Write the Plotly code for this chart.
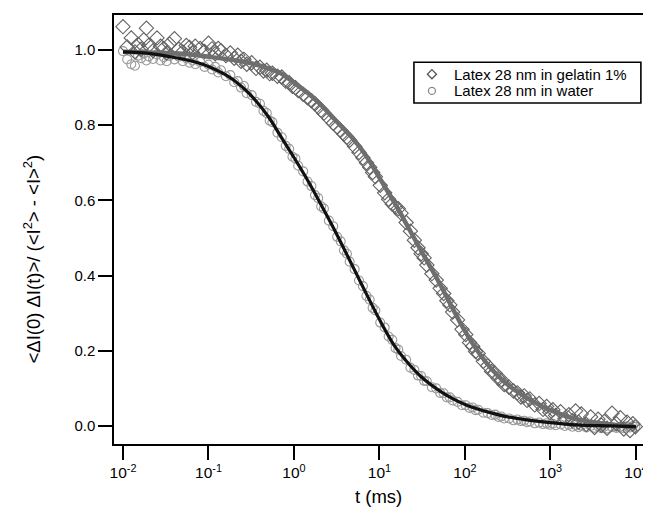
import plotly.graph_objects as go

# Lag times (ms), shared by both measurements
lag_ms = [0.0100, 0.0112, 0.0125, 0.0138, 0.0150, 0.0163, 0.0175, 0.0188, 0.0200, 0.0225,
          0.0250, 0.0275, 0.0300, 0.0325, 0.0350, 0.0400, 0.0450, 0.0500, 0.0550, 0.0600,
          0.0650, 0.0700, 0.0800, 0.0900, 0.100, 0.110, 0.120, 0.130, 0.140, 0.160,
          0.180, 0.200, 0.220, 0.240, 0.260, 0.280, 0.320, 0.360, 0.400, 0.440,
          0.480, 0.520, 0.560, 0.640, 0.720, 0.800, 0.880, 0.960, 1.04, 1.12,
          1.28, 1.44, 1.60, 1.76, 1.92, 2.08, 2.24, 2.56, 2.88, 3.20,
          3.52, 3.84, 4.16, 4.48, 5.12, 5.76, 6.40, 7.04, 7.68, 8.32,
          8.96, 10.2, 11.5, 12.8, 14.1, 15.4, 16.6, 17.9, 20.5, 23.0,
          25.6, 28.2, 30.7, 33.3, 35.8, 41.0, 46.1, 51.2, 56.3, 61.4,
          66.6, 71.7, 81.9, 92.2, 102, 113, 123, 133, 143, 164,
          184, 205, 225, 246, 266, 287, 328, 369, 410, 451,
          492, 532, 573, 655, 737, 819, 901, 983, 1065, 1147,
          1311, 1475, 1638, 1802, 1966, 2130, 2294, 2621, 2949, 3277,
          3604, 3932, 4260, 4588, 5243, 5898, 6554, 7209, 7864, 8520,
          9175, 9830]

gelatin_g = [1.062, 1.008, 1.032, 0.995, 1.015, 1.002, 1.027, 1.058, 1.012, 0.998,
             1.032, 1.010, 1.004, 0.992, 1.016, 1.030, 1.002, 0.995, 1.012, 1.007,
             0.993, 1.010, 1.004, 0.996, 1.018, 1.003, 0.990, 1.004, 0.998, 0.985,
             0.992, 0.978, 0.986, 0.970, 0.975, 0.962, 0.966, 0.951, 0.954, 0.944,
             0.946, 0.937, 0.938, 0.930, 0.928, 0.917, 0.913, 0.903, 0.900, 0.892,
             0.882, 0.873, 0.865, 0.857, 0.848, 0.840, 0.832, 0.818, 0.805, 0.795,
             0.786, 0.776, 0.768, 0.760, 0.743, 0.727, 0.713, 0.700, 0.688, 0.674,
             0.663, 0.640, 0.620, 0.603, 0.590, 0.582, 0.578, 0.566, 0.541, 0.518,
             0.494, 0.474, 0.458, 0.447, 0.428, 0.405, 0.388, 0.366, 0.352, 0.333,
             0.322, 0.303, 0.282, 0.257, 0.243, 0.222, 0.212, 0.198, 0.193, 0.172,
             0.160, 0.145, 0.140, 0.126, 0.123, 0.110, 0.103, 0.093, 0.088, 0.077,
             0.080, 0.068, 0.072, 0.056, 0.060, 0.044, 0.052, 0.036, 0.043, 0.028,
             0.038, 0.020, 0.030, 0.014, 0.040, 0.010, 0.032, 0.004, 0.024, -0.004,
             0.018, 0.002, 0.012, -0.006, 0.034, 0.006, 0.022, -0.008, 0.010, -0.012,
             0.006, -0.002]

water_g = [0.997, 0.975, 0.962, 0.958, 0.985, 0.978, 0.990, 0.972, 0.983, 0.976,
           0.988, 0.972, 0.981, 0.970, 0.984, 0.975, 0.982, 0.970, 0.978, 0.966,
           0.972, 0.962, 0.968, 0.955, 0.961, 0.948, 0.955, 0.940, 0.946, 0.930,
           0.933, 0.914, 0.917, 0.900, 0.904, 0.885, 0.880, 0.862, 0.857, 0.838,
           0.832, 0.812, 0.808, 0.780, 0.768, 0.745, 0.737, 0.716, 0.711, 0.692,
           0.677, 0.650, 0.638, 0.614, 0.606, 0.584, 0.578, 0.546, 0.531, 0.503,
           0.491, 0.467, 0.458, 0.437, 0.417, 0.387, 0.372, 0.346, 0.336, 0.314,
           0.307, 0.275, 0.262, 0.238, 0.229, 0.207, 0.203, 0.186, 0.176, 0.155,
           0.149, 0.134, 0.133, 0.120, 0.119, 0.103, 0.100, 0.088, 0.087, 0.076,
           0.076, 0.068, 0.064, 0.055, 0.055, 0.048, 0.049, 0.042, 0.043, 0.035,
           0.034, 0.029, 0.030, 0.024, 0.025, 0.020, 0.020, 0.015, 0.017, 0.013,
           0.014, 0.010, 0.012, 0.007, 0.009, 0.005, 0.007, 0.003, 0.006, 0.002,
           0.004, 0.000, 0.003, -0.002, 0.002, -0.003, 0.001, -0.004, 0.000, -0.005,
           -0.001, -0.006, -0.002, -0.007, -0.003, -0.005, -0.002, -0.006, -0.001, -0.004,
           0.000, -0.002]

# Fit curves
fit_gel_t = [0.01, 0.02, 0.05, 0.1, 0.2, 0.3, 0.5, 0.7, 1, 1.5, 2, 3, 5, 7, 10, 15, 20, 30,
             50, 70, 100, 150, 200, 300, 500, 700, 1000, 2000, 5000, 10000]
fit_gel_y = [0.995, 0.993, 0.990, 0.982, 0.973, 0.966, 0.951, 0.938, 0.913, 0.883, 0.857,
             0.815, 0.762, 0.718, 0.660, 0.593, 0.543, 0.470, 0.381, 0.317, 0.252, 0.190,
             0.154, 0.114, 0.078, 0.059, 0.042, 0.018, 0.004, -0.003]

fit_wat_t = [0.01, 0.02, 0.04, 0.07, 0.1, 0.15, 0.2, 0.3, 0.5, 0.7, 1, 1.5, 2, 3, 5, 7, 10,
             15, 20, 30, 50, 70, 100, 150, 200, 300, 500, 1000, 2000, 5000, 10000]
fit_wat_y = [0.995, 0.991, 0.980, 0.968, 0.956, 0.937, 0.919, 0.884, 0.823, 0.770, 0.714,
             0.647, 0.595, 0.520, 0.419, 0.352, 0.283, 0.213, 0.176, 0.133, 0.094, 0.074,
             0.057, 0.043, 0.035, 0.025, 0.017, 0.009, 0.003, 0.000, -0.002]

x_tickvals = [0.01, 0.1, 1, 10, 100, 1000, 10000]
x_ticktext = ["10<sup>-2</sup>", "10<sup>-1</sup>", "10<sup>0</sup>", "10<sup>1</sup>",
              "10<sup>2</sup>", "10<sup>3</sup>", "10<sup>4</sup>"]
y_tickvals = [0.0, 0.2, 0.4, 0.6, 0.8, 1.0]
y_ticktext = ["0.0", "0.2", "0.4", "0.6", "0.8", "1.0"]

names = ["Latex 28 nm in gelatin 1%", "Latex 28 nm in water"]
x_title = "t (ms)"
y_title = "&lt;ΔI(0) ΔI(t)&gt;/ (&lt;I<sup>2</sup>&gt; - &lt;I&gt;<sup>2</sup>)"

FONT = "Liberation Sans, Arial, Helvetica, sans-serif"
GEL_COL = "#626262"
WAT_COL = "#9a9a9a"

# legend layout (paper coordinates)
LEG_X0, LEG_X1, LEG_Y0, LEG_Y1 = 0.567, 0.996, 0.795, 0.890
LEG_ROWS = [0.862, 0.823]
LEG_MARK_X, LEG_TEXT_X = 0.601, 0.639

fig = go.Figure()

fig.add_trace(go.Scatter(x=lag_ms, y=water_g, mode="markers", showlegend=False,
                         marker=dict(symbol="circle-open", size=9, color=WAT_COL,
                                     line=dict(width=1.1, color=WAT_COL))))
fig.add_trace(go.Scatter(x=lag_ms, y=gelatin_g, mode="markers", showlegend=False,
                         marker=dict(symbol="diamond-open", size=11, color=GEL_COL,
                                     line=dict(width=1.1, color=GEL_COL))))
fig.add_trace(go.Scatter(x=fit_gel_t, y=fit_gel_y, mode="lines", showlegend=False,
                         line=dict(color="#6e6e6e", width=4.5, shape="spline")))
fig.add_trace(go.Scatter(x=fit_wat_t, y=fit_wat_y, mode="lines", showlegend=False,
                         line=dict(color="#111111", width=3.2, shape="spline")))

# legend symbols, on an overlay axis that spans the plot area in [0, 1]
fig.add_trace(go.Scatter(x=[LEG_MARK_X, LEG_MARK_X], y=LEG_ROWS, xaxis="x2", yaxis="y2",
                         mode="markers", showlegend=False, hoverinfo="skip",
                         marker=dict(symbol=["diamond-open", "circle-open"], size=7,
                                     color=["#555555", "#8a8a8a"],
                                     line=dict(width=1.3, color=["#555555", "#8a8a8a"]))))

fig.update_layout(
    width=643, height=503,
    margin=dict(l=106, r=8, t=7, b=67, autoexpand=False),
    paper_bgcolor="white", plot_bgcolor="white",
    font=dict(family=FONT, size=15, color="black"),
    showlegend=False,
    xaxis2=dict(overlaying="x", range=[0, 1], visible=False, domain=[0, 1]),
    yaxis2=dict(overlaying="y", range=[0, 1], visible=False, domain=[0, 1]),
    shapes=[dict(type="rect", xref="paper", yref="paper", x0=LEG_X0, x1=LEG_X1,
                 y0=LEG_Y0, y1=LEG_Y1, line=dict(color="black", width=1.6),
                 fillcolor="white", layer="below")],
    annotations=[
        dict(text=names[0], xref="paper", yref="paper", x=LEG_TEXT_X, y=LEG_ROWS[0],
             xanchor="left", yanchor="middle", showarrow=False,
             font=dict(size=15, family=FONT)),
        dict(text=names[1], xref="paper", yref="paper", x=LEG_TEXT_X, y=LEG_ROWS[1],
             xanchor="left", yanchor="middle", showarrow=False,
             font=dict(size=15, family=FONT)),
        dict(text=y_title, xref="paper", yref="paper", x=-0.155, y=0.43,
             xanchor="center", yanchor="middle", textangle=-90, showarrow=False,
             font=dict(size=18.5, family=FONT)),
        dict(text=x_title, xref="paper", yref="paper", x=0.5, y=-0.1235,
             xanchor="center", yanchor="middle", showarrow=False,
             font=dict(size=18.5, family=FONT)),
    ],
)
fig.update_layout(
    xaxis=dict(type="log", range=[-2.105, 4.082], automargin=False,
               tickvals=x_tickvals, ticktext=x_ticktext, ticklabeloverflow="allow",
               ticks="outside", ticklen=14, tickwidth=1.5, tickcolor="black",
               showline=True, linecolor="black", linewidth=1.5, mirror=True,
               showgrid=False, zeroline=False,
               tickfont=dict(size=15.5, family=FONT)),
    yaxis=dict(range=[-0.048, 1.093], automargin=False,
               tickvals=y_tickvals, ticktext=y_ticktext,
               ticks="outside", ticklen=14, tickwidth=1.5, tickcolor="black",
               showline=True, linecolor="black", linewidth=1.5, mirror=True,
               showgrid=False, zeroline=False,
               tickfont=dict(size=15, family=FONT)),
)

fig.write_html("out.html")
